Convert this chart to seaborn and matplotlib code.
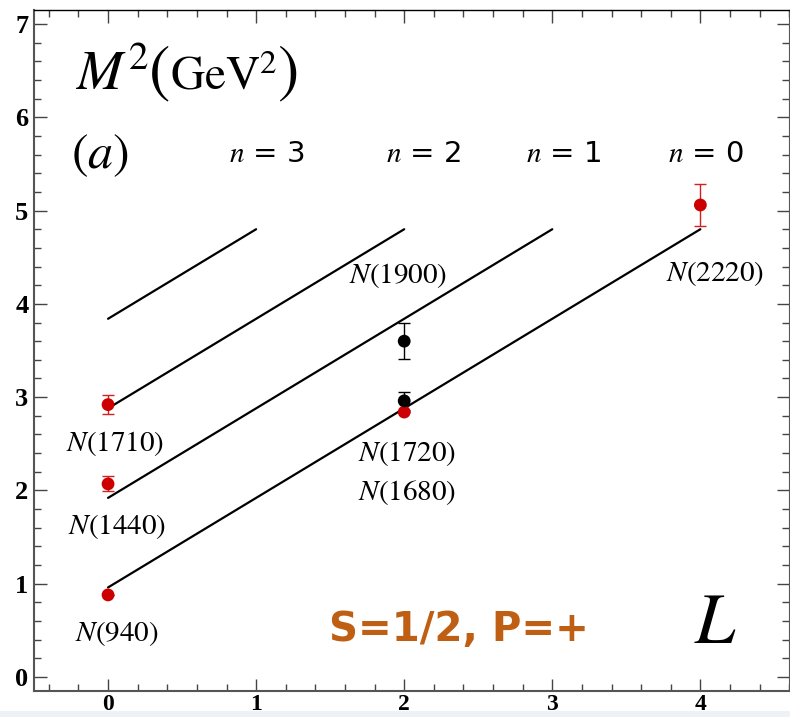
import numpy as np
import pandas as pd
import matplotlib
matplotlib.use("Agg")
import matplotlib.pyplot as plt
from matplotlib.ticker import MultipleLocator
from matplotlib.patches import Rectangle
from matplotlib.offsetbox import TextArea, HPacker, AnnotationBbox
import seaborn as sns

# Regge trajectories: M^2 vs L for radial number n
traj_n = [0, 1, 2, 3]
traj_L_start = [0, 0, 0, 0]
traj_L_end = [4, 3, 2, 1]
traj_M2_start = [0.96, 1.92, 2.88, 3.84]
traj_M2_end = [4.8, 4.8, 4.8, 4.8]

# experimental states (red) and other states (black)
red_L = [0, 0, 0, 2, 4]
red_M2 = [0.88, 2.07, 2.92, 2.84, 5.06]
red_err = [0.0, 0.08, 0.105, 0.0, 0.23]
black_L = [2, 2]
black_M2 = [2.96, 3.60]
black_err = [0.10, 0.19]

state_names = ["N(940)", "N(1440)", "N(1710)", "N(1720)", "N(1680)", "N(1900)", "N(2220)"]
state_lab_x = [0.06, 0.064, 0.05, 2.02, 2.02, 1.96, 4.10]
state_lab_y = [0.47, 1.61, 2.50, 2.40, 1.98, 4.30, 4.33]

n_lab_x = [4.04, 3.08, 2.13, 1.07]
n_lab_y = 5.61

sns.set_style("ticks")
plt.rcParams["mathtext.fontset"] = "stix"
plt.rcParams["font.family"] = ["STIXGeneral", "DejaVu Serif"]
plt.rcParams["text.color"] = "black"
plt.rcParams["xtick.labelcolor"] = "black"
plt.rcParams["ytick.labelcolor"] = "black"

df_lines = pd.DataFrame({
    "n": traj_n + traj_n,
    "L": traj_L_start + traj_L_end,
    "M2": traj_M2_start + traj_M2_end,
})

fig = plt.figure(figsize=(7.9, 7.17), dpi=100)
fig.patches.append(Rectangle((0, 0), 1, 6 / 717, transform=fig.transFigure,
                             facecolor="#eef2f7", edgecolor="none", zorder=0))
ax = fig.add_axes([34 / 790, 1 - 691 / 717, 1 - 34 / 790 - 0.001, (691 - 10) / 717])
ax.patch.set_alpha(0)

sns.lineplot(data=df_lines, x="L", y="M2", units="n", estimator=None,
             color="black", linewidth=1.6, ax=ax, legend=False)

ax.errorbar(red_L, red_M2, yerr=red_err, fmt="none", ecolor="#d42020",
            elinewidth=1.0, capsize=4, capthick=1.0, zorder=3)
ax.errorbar(black_L, black_M2, yerr=black_err, fmt="none", ecolor="black",
            elinewidth=1.0, capsize=4, capthick=1.0, zorder=3)
sns.scatterplot(x=red_L, y=red_M2, color="#cc0000", s=85, edgecolor="none", ax=ax, zorder=4)
sns.scatterplot(x=black_L, y=black_M2, color="black", s=85, edgecolor="none", ax=ax, zorder=5)

for name, x, y in zip(state_names, state_lab_x, state_lab_y):
    ax.text(x, y, "$N$" + name[1:], ha="center", va="center", fontsize=21,
            color="black")

for n, x in zip(traj_n, n_lab_x):
    ax.text(x, n_lab_y, "$n$ = %d" % n, ha="center", va="center", fontsize=21,
            family=["DejaVu Sans"], color="black")

# axis title M^2(GeV^2) with tall parentheses
parts = [("$M^2$", 40), ("(", 46), ("GeV$^2$", 34), (")", 46)]
boxes = [TextArea(t, textprops=dict(fontsize=s, family=["STIXGeneral"], color="black"))
         for t, s in parts]
title = HPacker(children=boxes, align="baseline", pad=0, sep=0)
ax.add_artist(AnnotationBbox(title, (-0.225, 6.46), xycoords="data",
                             box_alignment=(0, 0.5), frameon=False))

ax.text(-0.25, 5.59, r"$(a)$", ha="left", va="center", fontsize=36, color="black")
ax.text(4.1, 0.54, r"$L$", ha="center", va="center", fontsize=52, color="black")
ax.text(2.37, 0.50, "S=1/2, P=+", ha="center", va="center", fontsize=29,
        fontweight="bold", color="#bf5f14", family=["DejaVu Sans"])

ax.set_xlim(-0.5, 4.6)
ax.set_ylim(-0.15, 7.15)
ax.set_xlabel("")
ax.set_ylabel("")
ax.xaxis.set_major_locator(MultipleLocator(1))
ax.xaxis.set_minor_locator(MultipleLocator(0.2))
ax.yaxis.set_major_locator(MultipleLocator(1))
ax.yaxis.set_minor_locator(MultipleLocator(0.2))
ax.tick_params(which="both", direction="in", top=True, right=True, color="#444444", width=1.0)
ax.tick_params(which="major", length=9, labelsize=19, pad=4, labelcolor="black")
ax.tick_params(axis="x", which="major", labelsize=17, pad=2)
ax.tick_params(which="minor", length=5)
for lab in ax.get_xticklabels() + ax.get_yticklabels():
    lab.set_fontweight("bold")
    lab.set_family(["Liberation Serif"])
for side in ["left", "bottom"]:
    ax.spines[side].set_color("#555555")
    ax.spines[side].set_linewidth(1.5)
ax.spines["top"].set_color("black")
ax.spines["top"].set_linewidth(1.0)
ax.spines["right"].set_color("#555555")

plt.savefig("out.png", dpi=100)
